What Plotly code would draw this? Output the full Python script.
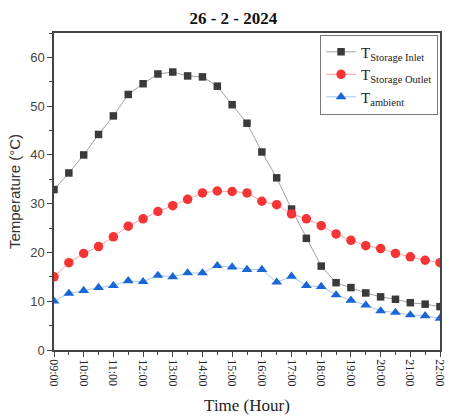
import plotly.graph_objects as go

times = ["09:00", "09:30", "10:00", "10:30", "11:00", "11:30", "12:00", "12:30", "13:00",
         "13:30", "14:00", "14:30", "15:00", "15:30", "16:00", "16:30", "17:00", "17:30",
         "18:00", "18:30", "19:00", "19:30", "20:00", "20:30", "21:00", "21:30", "22:00"]

t_inlet = [32.9, 36.3, 40.0, 44.2, 48.0, 52.4, 54.6, 56.6, 57.0, 56.2, 56.0, 54.1, 50.3, 46.5,
           40.6, 35.3, 28.9, 22.9, 17.2, 13.8, 12.8, 11.7, 10.9, 10.4, 9.7, 9.4, 8.9]
t_outlet = [15.0, 17.9, 19.8, 21.2, 23.2, 25.4, 26.9, 28.4, 29.6, 30.9, 32.2, 32.6, 32.5, 32.2,
            30.5, 29.8, 27.9, 26.9, 25.5, 23.8, 22.5, 21.4, 20.8, 19.8, 19.1, 18.4, 17.9]
t_ambient = [10.0, 11.6, 12.2, 12.8, 13.2, 14.2, 14.0, 15.3, 15.0, 15.8, 15.8, 17.3, 17.0, 16.5,
             16.5, 13.9, 15.1, 13.2, 13.0, 11.3, 10.2, 9.2, 8.0, 7.7, 7.2, 7.0, 6.5]

tick_labels = ["09:00", "10:00", "11:00", "12:00", "13:00", "14:00", "15:00", "16:00",
               "17:00", "18:00", "19:00", "20:00", "21:00", "22:00"]


def to_hours(s):
    h, m = s.split(":")
    return int(h) + int(m) / 60.0


x = [to_hours(s) for s in times]
tickvals = [to_hours(s) for s in tick_labels]

fig = go.Figure()
fig.add_trace(go.Scatter(
    x=x, y=t_inlet, mode="lines+markers",
    name="T<sub>Storage Inlet</sub>",
    line=dict(color="#a0a0a0", width=1),
    marker=dict(symbol="square", size=7.5, color="#3a3a3a"),
))
fig.add_trace(go.Scatter(
    x=x, y=t_outlet, mode="lines+markers",
    name="T<sub>Storage Outlet</sub>",
    line=dict(color="#ffa0a0", width=1),
    marker=dict(symbol="circle", size=9.5, color="#f53535"),
))
fig.add_trace(go.Scatter(
    x=x, y=t_ambient, mode="lines+markers",
    name="T<sub>ambient</sub>",
    line=dict(color="#a4c6f2", width=1),
    marker=dict(symbol="triangle-up", size=9.5, color="#1a66d6"),
))

axis_common = dict(
    showline=True, linecolor="#444444", linewidth=1.5, mirror=True,
    ticks="outside", ticklen=5, tickwidth=1.2, tickcolor="#444444",
    showgrid=False, zeroline=False,
)

fig.update_layout(
    width=453, height=419,
    margin=dict(l=54, r=6, t=33, b=69),
    paper_bgcolor="white", plot_bgcolor="white",
    title=dict(text="<b>26 - 2 - 2024</b>", x=0.515, xanchor="center", y=0.957, yanchor="middle",
               font=dict(family="Liberation Serif", size=17, color="#111111")),
    xaxis=dict(
        range=[9, 22], tickvals=tickvals, ticktext=tick_labels, tickangle=90,
        tickfont=dict(family="Liberation Serif", size=12, color="#222222"),
        title=dict(text="Time (Hour)", font=dict(family="Liberation Serif", size=17, color="#222222"), standoff=14),
        minor=dict(dtick=0.5, tick0=9, ticks="outside", ticklen=3, tickcolor="#444444", showgrid=False),
        **axis_common,
    ),
    yaxis=dict(
        range=[0, 65], dtick=10, tick0=0,
        tickfont=dict(family="Liberation Sans", size=13, color="#444444"),
        title=dict(text="Temperature (°C)", font=dict(family="Liberation Sans", size=15, color="#333333"), standoff=6),
        minor=dict(dtick=5, ticks="outside", ticklen=3, tickcolor="#444444", showgrid=False),
        **axis_common,
    ),
    legend=dict(
        x=0.995, y=0.995, xanchor="right", yanchor="top",
        bgcolor="white", bordercolor="#777777", borderwidth=1,
        font=dict(family="Liberation Serif", size=15, color="#222222"),
        tracegroupgap=0, itemwidth=30,
    ),
    showlegend=True,
)

fig.write_html("out.html")
